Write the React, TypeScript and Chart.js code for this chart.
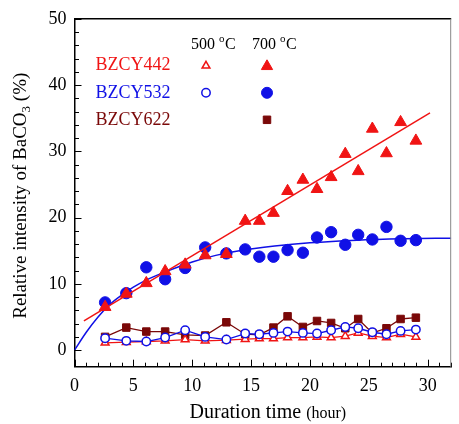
import React, { useEffect, useRef } from 'react';
import { Chart, registerables } from 'chart.js';

Chart.register(...registerables);

// ---- data ----
const times = [2.6, 4.4, 6.1, 7.7, 9.4, 11.1, 12.9, 14.5, 15.7, 16.9, 18.1, 19.4, 20.6, 21.8, 23.0, 24.1, 25.3, 26.5, 27.7, 29.0];
const bzcy442_700 = [6.5, 8.5, 10.1, 11.9, 12.9, 14.3, 14.5, 19.5, 19.5, 20.7, 24.0, 25.7, 24.3, 26.1, 29.6, 27.0, 33.4, 29.7, 34.4, 31.6];
const bzcy532_700 = [7.2, 8.6, 12.5, 10.7, 12.4, 15.5, 14.6, 15.2, 14.1, 14.1, 15.1, 14.7, 17.0, 17.8, 15.9, 17.4, 16.7, 18.6, 16.5, 16.6];
const bzcy442_500 = [1.1, 1.2, 1.3, 1.4, 1.6, 1.4, 1.5, 1.65, 1.75, 1.75, 1.9, 1.9, 2.0, 1.9, 2.1, 2.6, 2.1, 1.9, 2.4, 2.0];
const bzcy532_500 = [1.8, 1.4, 1.3, 1.9, 3.0, 2.0, 1.6, 2.5, 2.4, 2.6, 2.8, 2.6, 2.5, 3.0, 3.5, 3.3, 2.7, 2.4, 2.9, 3.1];
const bzcy622_700 = [2.0, 3.4, 2.8, 2.8, 2.3, 2.2, 4.2, 2.4, 2.3, 3.4, 5.1, 3.5, 4.4, 4.1, 3.3, 4.7, 2.6, 3.3, 4.7, 4.9];

// fitted curves
const fit442X = [0.8, 30.2];
const fit442Y = [4.4, 35.8];
const fit532X = [0, 1, 2, 3, 4, 5, 6, 8, 10, 12, 14, 17, 20, 24, 28, 32];
const fit532Y = [0, 2.7, 5.0, 6.9, 8.3, 9.5, 10.5, 12.0, 13.3, 14.3, 15.0, 15.7, 16.2, 16.6, 16.8, 16.9];

// axes
const xMin = 0, xMax = 32, xMajor = 5, xMinor = 1;
const yMin = -2.5, yMax = 50, yMajor = 10, yMinor = 2;

const seriesNames = ['BZCY442', 'BZCY532', 'BZCY622'];
const tempLabels = ['500', '700'];
const xTitleMain = 'Duration time';
const xTitleUnit = '(hour)';
const yTitleMain = 'Relative intensity of BaCO';
const yTitleSub = '3';
const yTitleEnd = ' (%)';

const RED = '#f01414';
const BLUE = '#1010e6';
const DARK = '#7a0808';
const SERIF = '"Liberation Serif", "Times New Roman", serif';

const pts = (xs: number[], ys: number[]) => xs.map((x, i) => ({ x, y: ys[i] }));

function marker(ctx: CanvasRenderingContext2D, style: string, x: number, y: number, r: number, fill: string, stroke: string, lw: number) {
  ctx.beginPath();
  if (style === 'triangle') {
    ctx.moveTo(x, y - r);
    ctx.lineTo(x + 0.866 * r, y + 0.5 * r);
    ctx.lineTo(x - 0.866 * r, y + 0.5 * r);
    ctx.closePath();
  } else if (style === 'rect') {
    const s = r * Math.SQRT1_2;
    ctx.rect(x - s, y - s, 2 * s, 2 * s);
  } else {
    ctx.arc(x, y, r, 0, Math.PI * 2);
  }
  ctx.fillStyle = fill;
  ctx.fill();
  ctx.lineWidth = lw;
  ctx.strokeStyle = stroke;
  ctx.stroke();
}

const decor = {
  id: 'decor',
  afterDraw(chart: any) {
    const { ctx, chartArea: a, scales } = chart;
    const xs = scales.x, ys = scales.y;
    ctx.save();
    ctx.strokeStyle = '#000';
    ctx.lineWidth = 1;
    // inward ticks
    for (let v = xMin; v <= xMax; v += xMinor) {
      const px = Math.round(xs.getPixelForValue(v)) + 0.5;
      const len = v % xMajor === 0 ? 7 : 4;
      ctx.beginPath();
      ctx.moveTo(px, a.bottom);
      ctx.lineTo(px, a.bottom - len);
      ctx.stroke();
    }
    for (let v = 0; v <= yMax; v += yMinor) {
      const py = Math.round(ys.getPixelForValue(v)) + 0.5;
      const len = v % yMajor === 0 ? 7 : 4.5;
      ctx.beginPath();
      ctx.moveTo(a.left, py);
      ctx.lineTo(a.left + len, py);
      ctx.stroke();
    }
    // top & right frame
    ctx.lineWidth = 1.5;
    ctx.beginPath();
    ctx.moveTo(a.left, a.top);
    ctx.lineTo(a.right, a.top);
    ctx.stroke();
    ctx.strokeStyle = '#888';
    ctx.lineWidth = 1;
    ctx.beginPath();
    ctx.moveTo(a.right - 0.5, a.top);
    ctx.lineTo(a.right - 0.5, a.bottom);
    ctx.stroke();

    // legend
    const lx = a.left + 21;
    const c1 = a.left + 131.5;
    const c2 = a.left + 192.5;
    const rows = [a.top + 46, a.top + 74, a.top + 101];
    const hy = a.top + 26;
    ctx.textBaseline = 'middle';
    ctx.textAlign = 'left';
    ctx.font = `18px ${SERIF}`;
    const colors = [RED, BLUE, DARK];
    seriesNames.forEach((n, i) => {
      ctx.fillStyle = colors[i];
      ctx.fillText(n, lx, rows[i]);
    });
    // headers
    tempLabels.forEach((t, i) => {
      const cx = (i === 0 ? c1 : c2) + 7;
      ctx.font = `16px ${SERIF}`;
      const w1 = ctx.measureText(t + ' ').width;
      ctx.font = `11px ${SERIF}`;
      const w2 = ctx.measureText('o').width;
      ctx.font = `16px ${SERIF}`;
      const w3 = ctx.measureText('C').width;
      const start = cx - (w1 + w2 + w3) / 2;
      ctx.fillStyle = '#000';
      ctx.font = `16px ${SERIF}`;
      ctx.fillText(t + ' ', start, hy);
      ctx.font = `11px ${SERIF}`;
      ctx.fillText('o', start + w1, hy - 6);
      ctx.font = `16px ${SERIF}`;
      ctx.fillText('C', start + w1 + w2 + 0.5, hy);
    });
    marker(ctx, 'triangle', c1, rows[0] + 1, 4.5, '#fff', RED, 1.5);
    marker(ctx, 'triangle', c2, rows[0] + 1.5, 6.5, RED, RED, 1);
    marker(ctx, 'circle', c1, rows[1], 4.2, '#fff', BLUE, 1.5);
    marker(ctx, 'circle', c2, rows[1], 5.5, BLUE, BLUE, 1);
    marker(ctx, 'rect', c2, rows[2], 5.3, DARK, DARK, 1);

    // x title
    ctx.fillStyle = '#000';
    ctx.textBaseline = 'alphabetic';
    ctx.font = `20px ${SERIF}`;
    const tw1 = ctx.measureText(xTitleMain + ' ').width;
    ctx.font = `16px ${SERIF}`;
    const tw2 = ctx.measureText(xTitleUnit).width;
    const tcx = (a.left + a.right) / 2 + 5;
    const tx0 = tcx - (tw1 + tw2) / 2;
    const tby = 418;
    ctx.font = `20px ${SERIF}`;
    ctx.fillText(xTitleMain + ' ', tx0, tby);
    ctx.font = `16px ${SERIF}`;
    ctx.fillText(xTitleUnit, tx0 + tw1, tby);

    // y title (rotated)
    ctx.save();
    ctx.translate(26, (a.top + a.bottom) / 2 + 3);
    ctx.rotate(-Math.PI / 2);
    ctx.font = `19px ${SERIF}`;
    const m1 = ctx.measureText(yTitleMain).width;
    ctx.font = `13px ${SERIF}`;
    const m2 = ctx.measureText(yTitleSub).width;
    ctx.font = `19px ${SERIF}`;
    const m3 = ctx.measureText(yTitleEnd).width;
    const y0 = -(m1 + m2 + m3) / 2;
    ctx.fillText(yTitleMain, y0, 0);
    ctx.font = `13px ${SERIF}`;
    ctx.fillText(yTitleSub, y0 + m1, 4);
    ctx.font = `19px ${SERIF}`;
    ctx.fillText(yTitleEnd, y0 + m1 + m2, 0);
    ctx.restore();

    ctx.restore();
  },
};

export default function App() {
  const ref = useRef<HTMLCanvasElement>(null);
  useEffect(() => {
    if (!ref.current) return;
    const chart = new Chart(ref.current, {
      type: 'scatter',
      data: {
        datasets: [
          {
            data: pts(fit442X, fit442Y), showLine: true, borderColor: RED, borderWidth: 1.5,
            pointRadius: 0, fill: false,
          },
          {
            data: pts(times, bzcy442_700), showLine: false, pointStyle: 'triangle', pointRadius: 6.8,
            backgroundColor: RED, borderColor: RED, borderWidth: 1,
          },
          {
            data: pts(fit532X, fit532Y), showLine: true, borderColor: BLUE, borderWidth: 1.5,
            pointRadius: 0, cubicInterpolationMode: 'monotone', fill: false,
          },
          {
            data: pts(times, bzcy532_700), showLine: false, pointStyle: 'circle', pointRadius: 5.7,
            backgroundColor: BLUE, borderColor: BLUE, borderWidth: 1,
          },
          {
            data: pts(times, bzcy532_500), showLine: true, pointStyle: 'circle', pointRadius: 4.2,
            borderColor: BLUE, borderWidth: 1.3, pointBackgroundColor: '#fff', pointBorderColor: BLUE,
            pointBorderWidth: 1.5, backgroundColor: '#fff',
          },
          {
            data: pts(times, bzcy442_500), showLine: true, pointStyle: 'triangle', pointRadius: 4.5,
            borderColor: RED, borderWidth: 1.3, pointBackgroundColor: '#fff', pointBorderColor: RED,
            pointBorderWidth: 1.5, backgroundColor: '#fff',
          },
          {
            data: pts(times, bzcy622_700), showLine: true, pointStyle: 'rect', pointRadius: 5.3,
            borderColor: DARK, borderWidth: 1.3, pointBackgroundColor: DARK, pointBorderColor: DARK,
            pointBorderWidth: 1, backgroundColor: DARK,
          },
        ],
      },
      options: {
        animation: false,
        responsive: false,
        devicePixelRatio: 1,
        layout: { padding: { left: 0, right: 0.5, top: 17.3, bottom: 0 } },
        plugins: { legend: { display: false }, tooltip: { enabled: false }, title: { display: false } },
        scales: {
          x: {
            type: 'linear', min: xMin, max: xMax,
            grid: { display: false, drawTicks: false },
            border: { display: true, color: '#000', width: 1.5 },
            ticks: {
              stepSize: xMajor, includeBounds: false, padding: 9, color: '#000', maxRotation: 0,
              font: { family: SERIF, size: 18 },
              callback: (v: any) => (Number(v) % xMajor === 0 ? String(v) : ''),
            },
            afterFit: (s: any) => { s.height = 424 - 366.7; },
          },
          y: {
            type: 'linear', min: yMin, max: yMax,
            grid: { display: false, drawTicks: false },
            border: { display: true, color: '#000', width: 1.5 },
            ticks: {
              stepSize: yMajor, includeBounds: false, padding: 8, color: '#000',
              font: { family: SERIF, size: 18 },
              callback: (v: any) => (Number(v) % yMajor === 0 ? String(v) : ''),
            },
            afterFit: (s: any) => { s.width = 74.5; },
          },
        },
      },
      plugins: [decor],
    } as any);
    return () => chart.destroy();
  }, []);
  return (
    <div style={{ position: 'absolute', left: 0, top: 0, width: 459, height: 424, background: '#fff' }}>
      <canvas ref={ref} width={459} height={424} style={{ width: 459, height: 424, display: 'block' }} />
    </div>
  );
}
